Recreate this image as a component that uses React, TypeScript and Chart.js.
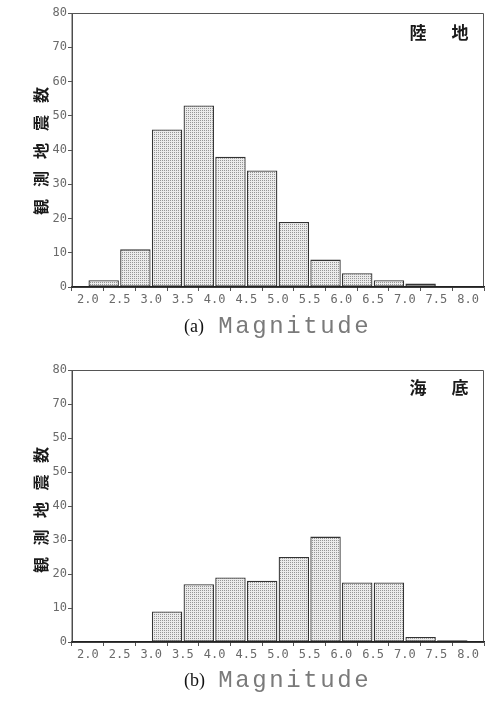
import React, { useEffect, useRef } from "react";
import { Chart, registerables } from "chart.js";

Chart.register(...registerables);

// ---------- data ----------
const BIN_STARTS = [2.0, 2.5, 3.0, 3.5, 4.0, 4.5, 5.0, 5.5, 6.0, 6.5, 7.0, 7.5];
const BIN_WIDTH = 0.5;
const LAND_COUNTS = [2, 11, 46, 53, 38, 34, 19, 8, 4, 2, 1, 0];
const SEA_COUNTS = [0, 0, 9, 17, 19, 18, 25, 31, 17.5, 17.5, 1.5, 0.5];
const X_TICKS = [2.0, 2.5, 3.0, 3.5, 4.0, 4.5, 5.0, 5.5, 6.0, 6.5, 7.0, 7.5, 8.0];
const Y_TICKS = [0, 10, 20, 30, 40, 50, 60, 70, 80];
const LAND_Y_LABELS = ["0", "10", "20", "30", "40", "50", "60", "70", "80"];
const SEA_Y_LABELS = ["0", "10", "20", "30", "40", "50", "50", "70", "80"];
const Y_TITLE = "観測地震数";
const LAND_TAG = ["陸", "地"];
const SEA_TAG = ["海", "底"];
const LAND_PREFIX = "(a)";
const SEA_PREFIX = "(b)";
const X_TITLE = "Magnitude";

const MONO = '"DejaVu Sans Mono", monospace';
const THIN_MONO = '"Liberation Mono", monospace';

function makeStipple(): CanvasPattern | string {
  const c = document.createElement("canvas");
  c.width = 2;
  c.height = 2;
  const g = c.getContext("2d");
  if (!g) return "#d8d8d8";
  g.fillStyle = "#ebebeb";
  g.fillRect(0, 0, 2, 2);
  g.fillStyle = "#959595";
  g.fillRect(0, 0, 1, 1);
  const p = g.createPattern(c, "repeat");
  return p || "#d8d8d8";
}

type PanelProps = {
  top: number;
  height: number;
  counts: number[];
  yLabels: string[];
  tag: string[];
  prefix: string;
  padTop: number;
  xAxisH: number;
  tagY: number;
  yTitleCY: number;
  yTitleStep: number;
  titleBase: number;
};

function Panel(p: PanelProps) {
  const ref = useRef<HTMLCanvasElement | null>(null);

  useEffect(() => {
    const canvas = ref.current;
    if (!canvas) return;
    const fill = makeStipple();

    const decor = {
      id: "decor",
      afterDatasetsDraw(chart: any) {
        const { ctx, chartArea: a } = chart;
        ctx.save();
        ctx.strokeStyle = "#555";
        ctx.lineWidth = 1;
        ctx.beginPath();
        ctx.moveTo(a.left, a.bottom);
        ctx.lineTo(a.left, a.top + 0.5);
        ctx.lineTo(a.right - 0.5, a.top + 0.5);
        ctx.lineTo(a.right - 0.5, a.bottom);
        ctx.stroke();
        ctx.strokeStyle = "#222";
        ctx.lineWidth = 1.5;
        ctx.beginPath();
        ctx.moveTo(a.left, a.bottom);
        ctx.lineTo(a.right, a.bottom);
        ctx.stroke();
        ctx.restore();
      },
      afterDraw(chart: any) {
        const { ctx } = chart;
        ctx.save();
        // corner tag
        ctx.fillStyle = "#1a1a1a";
        ctx.font = 'bold 17px "Noto Sans CJK JP"';
        ctx.textAlign = "center";
        ctx.textBaseline = "middle";
        ctx.fillText(p.tag[0], 418, p.tagY);
        ctx.fillText(p.tag[1], 460, p.tagY);
        // y title, rotated chars
        ctx.font = 'bold 16px "Noto Sans CJK JP"';
        const chars = Array.from(Y_TITLE);
        const n = chars.length;
        chars.forEach((ch, i) => {
          const cy = p.yTitleCY + ((n - 1) / 2 - i) * p.yTitleStep;
          ctx.save();
          ctx.translate(41, cy);
          ctx.rotate(-Math.PI / 2);
          ctx.fillText(ch, 0, 0);
          ctx.restore();
        });
        // x title
        ctx.textBaseline = "alphabetic";
        ctx.textAlign = "left";
        ctx.fillStyle = "#111";
        ctx.font = '18px "Liberation Serif"';
        ctx.fillText(p.prefix, 184, p.titleBase - 1);
        ctx.fillStyle = "#7a7a7a";
        ctx.font = "24px " + THIN_MONO;
        ctx.textAlign = "center";
        Array.from(X_TITLE).forEach((ch, i) => {
          ctx.fillText(ch, 217 + 8.5 + 17 * i, p.titleBase);
        });
        ctx.restore();
      },
    };

    const chart = new Chart(canvas, {
      type: "bar",
      data: {
        datasets: [
          {
            data: BIN_STARTS.map((s, i) => ({ x: s + BIN_WIDTH / 2, y: p.counts[i] })),
            backgroundColor: fill as any,
            borderColor: "#333",
            borderWidth: 1.3,
            borderSkipped: false,
            barPercentage: 0.96,
            categoryPercentage: 1,
          },
        ],
      },
      options: {
        responsive: false,
        animation: false,
        events: [],
        layout: { padding: { top: p.padTop, right: 19, left: 0, bottom: 0 } },
        plugins: { legend: { display: false }, tooltip: { enabled: false }, title: { display: false } },
        scales: {
          x: {
            type: "linear",
            min: 2,
            max: 8,
            afterBuildTicks: (axis: any) => {
              axis.ticks = X_TICKS.map((v) => ({ value: v }));
            },
            afterFit: (axis: any) => {
              axis.height = p.xAxisH;
            },
            ticks: {
              autoSkip: false,
              maxRotation: 0,
              padding: 2,
              color: "#6a6a6a",
              font: { family: MONO, size: 12 },
              callback: (v: any) => Number(v).toFixed(1),
            },
            grid: { display: true, drawOnChartArea: false, drawTicks: true, tickLength: 4, color: "#555" },
            border: { display: true, color: "#222", width: 1.5 },
          },
          y: {
            min: 0,
            max: 80,
            afterBuildTicks: (axis: any) => {
              axis.ticks = Y_TICKS.map((v) => ({ value: v }));
            },
            afterFit: (axis: any) => {
              axis.width = 72;
            },
            ticks: {
              padding: 1,
              color: "#6a6a6a",
              font: { family: MONO, size: 12 },
              callback: (_v: any, i: number) => p.yLabels[i],
            },
            grid: { display: true, drawOnChartArea: false, drawTicks: true, tickLength: 4, color: "#555" },
            border: { display: true, color: "#444", width: 1 },
          },
        },
      },
      plugins: [decor],
    } as any);

    return () => chart.destroy();
  }, []);

  return (
    <canvas
      ref={ref}
      width={503}
      height={p.height}
      style={{ position: "absolute", left: 0, top: p.top, width: 503, height: p.height }}
    />
  );
}

export default function App() {
  return (
    <div style={{ position: "absolute", left: 0, top: 0, width: 503, height: 701, background: "#fff" }}>
      <Panel
        top={0}
        height={350}
        counts={LAND_COUNTS}
        yLabels={LAND_Y_LABELS}
        tag={LAND_TAG}
        prefix={LAND_PREFIX}
        padTop={13}
        xAxisH={63}
        tagY={33}
        yTitleCY={151}
        yTitleStep={28}
        titleBase={333}
      />
      <Panel
        top={350}
        height={351}
        counts={SEA_COUNTS}
        yLabels={SEA_Y_LABELS}
        tag={SEA_TAG}
        prefix={SEA_PREFIX}
        padTop={20}
        xAxisH={59}
        tagY={38}
        yTitleCY={160}
        yTitleStep={27.5}
        titleBase={337}
      />
    </div>
  );
}
